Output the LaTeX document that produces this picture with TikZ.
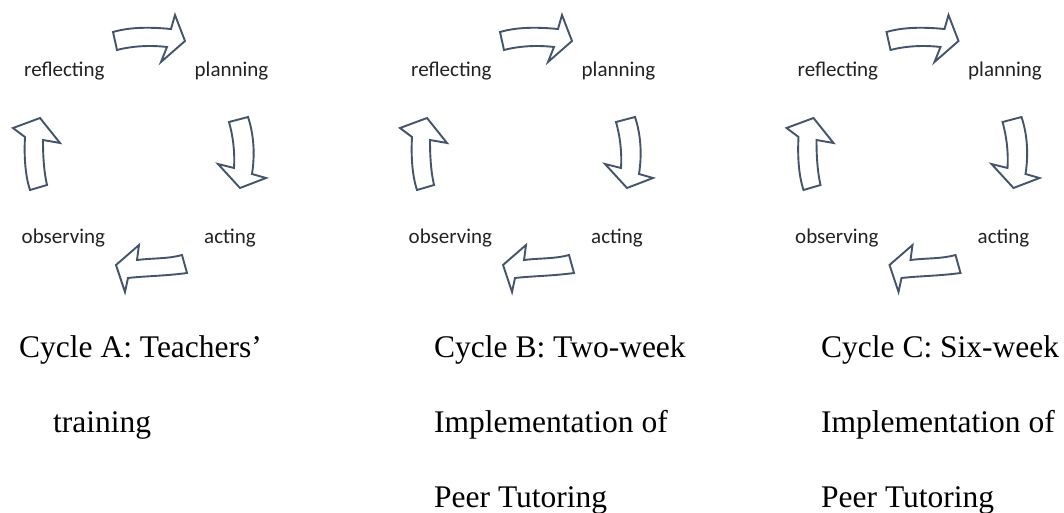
\documentclass[tikz,border=0pt]{standalone}
\usepackage{fontspec}
\setmainfont{Liberation Serif}
\newfontfamily\labfont{Carlito}
\definecolor{arrowcol}{HTML}{44546A}
\definecolor{labcol}{HTML}{222222}
\tikzset{
  blockarrow/.style={draw=arrowcol, line width=1.9pt, fill=white, line join=miter},
  steplabel/.style={anchor=base west, inner sep=0pt, text=labcol, font=\labfont\fontsize{21}{24}\selectfont},
  captext/.style={anchor=base west, inner sep=0pt, text=black, font=\fontsize{31.5}{36}\selectfont}
}
\begin{document}
\begin{tikzpicture}[x=1pt,y=-1pt]
\useasboundingbox[fill=white] (0,0) rectangle (1064,512);
\foreach \dx/\c in {0/A,387/B,773.5/C}{
  \begin{scope}[shift={(\dx,0)}]
    % top arrow (pointing right)
    \draw[blockarrow] (113,32) .. controls (130,27) and (150,27) .. (171,29) -- (175,15) -- (185,41) -- (161,62) -- (167,47) .. controls (150,45) and (132,46) .. (117,50) -- cycle;
    % right arrow (pointing down)
    \draw[blockarrow] (229,122) -- (248,117) .. controls (254,135) and (255,155) .. (252,174) -- (266,178) -- (240,188) -- (218,164) -- (234,168) .. controls (235,152) and (233,136) .. (229,122) -- cycle;
    % bottom arrow (pointing left)
    \draw[blockarrow] (182,255) -- (187,273) .. controls (165,276) and (145,276) .. (128,278) -- (125,292) -- (116,265) -- (139,245) -- (137,260) .. controls (152,258) and (168,259) .. (182,255) -- cycle;
    % left arrow (pointing up)
    \draw[blockarrow] (30,190) .. controls (25,175) and (24,155) .. (25,137) -- (13,128) -- (40,118) -- (60,143) -- (43,140) .. controls (43,157) and (44,172) .. (47,185) -- cycle;
    \node[steplabel] (refl\c) at (24,76) {reflecting};
    \node[steplabel] (plan\c) at (194.5,76) {planning};
    \node[steplabel] (obs\c) at (21.5,243) {observing};
    \node[steplabel] (act\c) at (204,243) {acting};
  \end{scope}
}
\node[captext] (capA1) at (19,357) {Cycle A: Teachers’};
\node[captext] (capA2) at (53,432) {training};
\node[captext] (capB1) at (434,357) {Cycle B: Two-week};
\node[captext] (capB2) at (434,432) {Implementation of};
\node[captext] (capB3) at (434,507) {Peer Tutoring};
\node[captext] (capC1) at (821,357) {Cycle C: Six-week};
\node[captext] (capC2) at (821,432) {Implementation of};
\node[captext] (capC3) at (821,507) {Peer Tutoring};
\end{tikzpicture}
\end{document}
